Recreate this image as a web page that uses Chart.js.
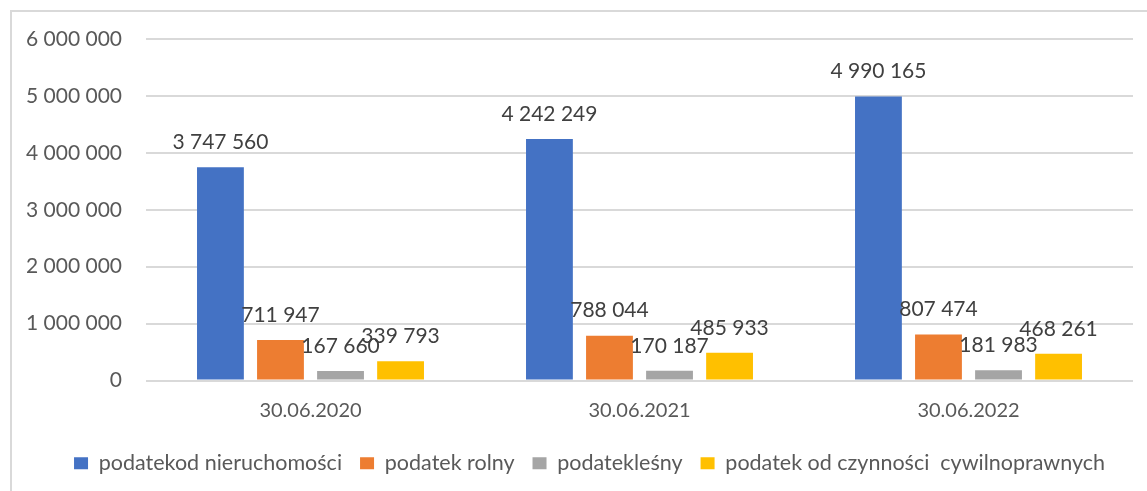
<!DOCTYPE html>
<html>
<head>
<meta charset="utf-8">
<script src="https://cdn.jsdelivr.net/npm/chart.js@4/dist/chart.umd.min.js"></script>
<style>
  html, body { margin: 0; padding: 0; background: #ffffff; }
  #wrap { position: relative; width: 1147px; height: 491px; overflow: hidden; }
  #frame { position: absolute; left: 10px; top: 10px; width: 1200px; height: 600px;
           border-left: 2px solid #d9d9d9; border-top: 2px solid #d9d9d9; box-sizing: border-box; }
  canvas { position: absolute; left: 0; top: 0; }
</style>
</head>
<body>
<div id="wrap">
  <div id="frame"></div>
  <canvas id="c" width="1147" height="491"></canvas>
</div>
<script>
const categories = ['30.06.2020', '30.06.2021', '30.06.2022'];
const seriesNames = ['podatekod nieruchomości', 'podatek rolny', 'podatekleśny', 'podatek od czynności  cywilnoprawnych'];
const nieruchomosci = [3747560, 4242249, 4990165];
const rolny = [711947, 788044, 807474];
const lesny = [167660, 170187, 181983];
const czynnosci = [339793, 485933, 468261];
const colors = ['#4472C4', '#ED7D31', '#A5A5A5', '#FFC000'];
const yTicks = [0, 1000000, 2000000, 3000000, 4000000, 5000000, 6000000];

const FONT = 'Lato';
function fmt(v) {
  return String(Math.round(v)).replace(/\B(?=(\d{3})+(?!\d))/g, ' ');
}

const valueLabels = {
  id: 'valueLabels',
  afterDatasetsDraw(chart) {
    const ctx = chart.ctx;
    ctx.save();
    ctx.font = '21px ' + FONT;
    ctx.fillStyle = '#404040';
    ctx.textAlign = 'center';
    ctx.textBaseline = 'middle';
    chart.data.datasets.forEach((ds, i) => {
      const meta = chart.getDatasetMeta(i);
      meta.data.forEach((el, j) => {
        ctx.fillText(fmt(ds.data[j]), el.x, el.y - 25);
      });
    });
    ctx.restore();
  }
};

// shift the legend box so it is centred like the original
const legendShift = {
  id: 'legendShift',
  afterLayout(chart) {
    if (chart.legend) { chart.legend.left = 46; }
  }
};

const allSeries = [nieruchomosci, rolny, lesny, czynnosci];

new Chart(document.getElementById('c'), {
  type: 'bar',
  data: {
    labels: categories,
    datasets: allSeries.map((d, i) => ({
      label: seriesNames[i],
      data: d,
      backgroundColor: colors[i],
      borderWidth: 0,
      categoryPercentage: 0.73,
      barPercentage: 0.78
    }))
  },
  options: {
    responsive: false,
    animation: false,
    devicePixelRatio: 1,
    layout: { padding: { left: 10, right: 14, top: 39, bottom: 7 } },
    plugins: {
      legend: {
        position: 'bottom',
        labels: {
          font: { family: FONT, size: 21.5 },
          color: '#595959',
          boxWidth: 14,
          boxHeight: 12,
          padding: 18
        }
      },
      tooltip: { enabled: false }
    },
    scales: {
      x: {
        grid: { display: false, drawTicks: false },
        border: { display: false },
        ticks: { font: { family: FONT, size: 20 }, color: '#595959', padding: 18 },
        afterFit(scale) { scale.height = 54; }
      },
      y: {
        min: 0,
        max: 6000000,
        afterBuildTicks(scale) { scale.ticks = yTicks.map(v => ({ value: v })); },
        grid: { color: '#d9d9d9', lineWidth: 2, drawTicks: false },
        border: { display: false },
        ticks: { font: { family: FONT, size: 21 }, color: '#595959', padding: 24, callback: v => fmt(v) },
        afterFit(scale) { scale.width = 136; }
      }
    }
  },
  plugins: [valueLabels, legendShift]
});
</script>
</body>
</html>
